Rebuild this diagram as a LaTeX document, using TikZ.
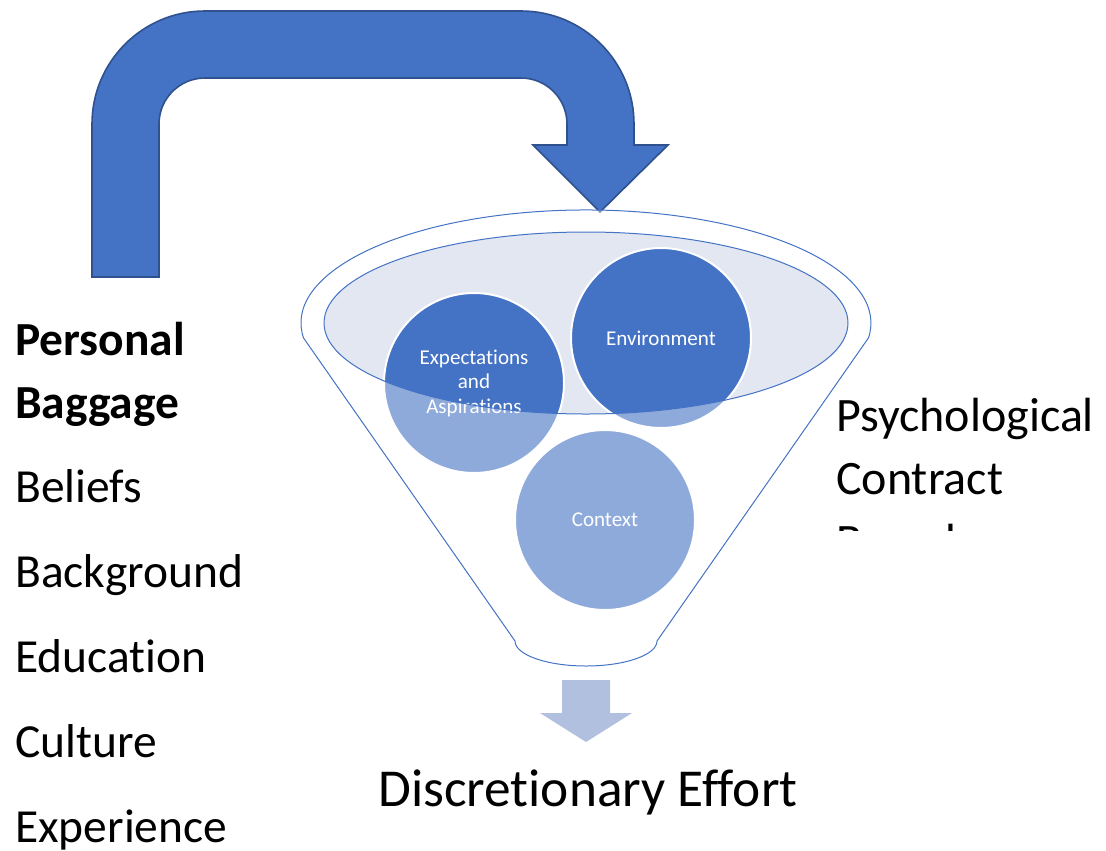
\documentclass[tikz,border=0pt]{standalone}
\usepackage{fontspec}
\setmainfont{Carlito}[Ligatures={NoCommon}]
\usepackage{tikz}
\usetikzlibrary{positioning,calc}

\definecolor{arrowblue}{RGB}{68,114,196}
\definecolor{arrowedge}{RGB}{47,82,143}
\definecolor{paleblue}{RGB}{226,231,242}
\definecolor{dropblue}{RGB}{178,192,224}

\newcommand{\funnelbody}{(303.5,337.9) arc[start angle=172.4, end angle=367.6, x radius=285, y radius=113]
    -- (657,641) arc[start angle=0, end angle=180, x radius=71, y radius=25] -- cycle}

\begin{document}
\begin{tikzpicture}[x=0.75pt, y=-0.75pt,
    bubble/.style={circle, draw=white, line width=1.5pt, fill=arrowblue, text=white,
        minimum size=135pt, inner sep=0pt, align=center, font=\fontsize{15.8}{18.4}\selectfont},
    bigtext/.style={anchor=base west, inner sep=0pt, font=\fontsize{35.6}{42}\selectfont}]
    \useasboundingbox (0,0) rectangle (1106,850);

    % U-turn arrow
    \draw[arrowedge, line width=1.2pt, fill=arrowblue] (92,277) -- (92,124)
        arc[start angle=180, end angle=270, radius=113] -- (521,11)
        arc[start angle=270, end angle=360, radius=113] -- (634,145) -- (668,145)
        -- (600,212) -- (533,145) -- (567,145) -- (567,124)
        arc[start angle=0, end angle=-90, radius=46] -- (205,78)
        arc[start angle=270, end angle=180, radius=46] -- (159,277) -- cycle;

    % Funnel opening
    \fill[paleblue] (586,323) ellipse[x radius=262, y radius=91];

    % Bubbles
    \node[bubble] (expect) at (474,383) {Expectations\\and\\Aspirations};
    \node[bubble] (environ) at (661,338) {Environment};
    \node[bubble] (context) at (605,520) {Context};

    % Funnel
    \fill[white, opacity=0.4, even odd rule] \funnelbody (586,323) ellipse[x radius=262, y radius=91];
    \draw[arrowblue, line width=0.75pt] \funnelbody;
    \draw[arrowblue, line width=0.75pt] (586,323) ellipse[x radius=262, y radius=91];

    % Output arrow
    \fill[dropblue] (562,680) -- (610,680) -- (610,713) -- (632,713) -- (586,742)
        -- (540,713) -- (562,713) -- cycle;
    \node[bigtext, font=\fontsize{40}{47}\selectfont] (effort) at (378,806) {Discretionary Effort};

    % Psychological contract
    \begin{scope}
        \clip (820,380) rectangle (1106,530);
        \node[bigtext, font=\fontsize{36}{42}\selectfont] (psych) at (836,431) {Psychological};
        \node[bigtext, font=\fontsize{36}{42}\selectfont] (contract) at (836,494) {Contract};
        \node[bigtext, font=\fontsize{36}{42}\selectfont] (breach) at (836,557) {Breach};
    \end{scope}

    % Personal baggage
    \node[bigtext, font=\fontsize{35.6}{42}\selectfont\bfseries] (personal) at (15,355) {Personal};
    \node[bigtext, font=\fontsize{35.6}{42}\selectfont\bfseries] (baggage) at (15,418) {Baggage};
    \foreach \item/\y in {Beliefs/502, Background/587, Education/672, Culture/757, Experience/842}
        \node[bigtext] (\item) at (15,\y) {\item};
\end{tikzpicture}
\end{document}
